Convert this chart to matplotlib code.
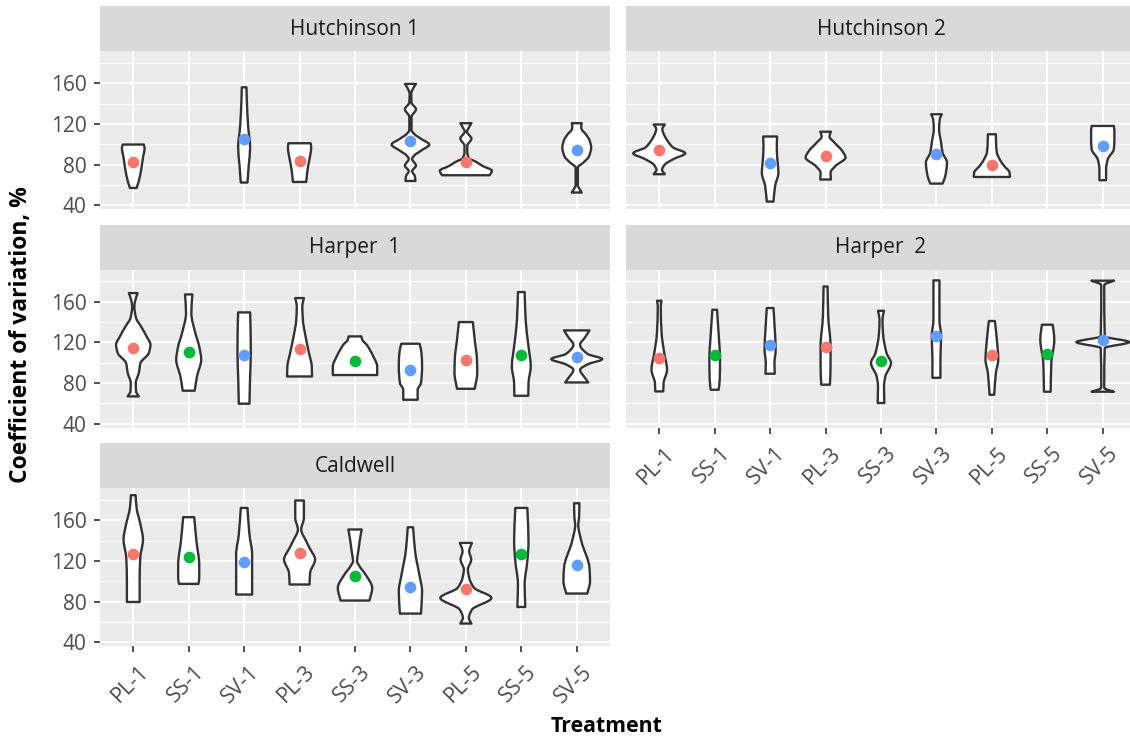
"""Faceted violin plot of coefficient of variation by treatment and site."""

import matplotlib

matplotlib.use("Agg")
import matplotlib.pyplot as plt
import matplotlib.transforms as mtransforms
import numpy as np
from matplotlib.patches import PathPatch
from matplotlib.path import Path
from matplotlib.ticker import FixedLocator

TREATMENTS = ["PL-1", "SS-1", "SV-1", "PL-3", "SS-3", "SV-3", "PL-5", "SS-5", "SV-5"]
TYPE_COLOR = {"PL": "#F8766D", "SS": "#00BA38", "SV": "#619CFF"}

# violin outlines: (CV values bottom->top, half-width in category units)
H1_SHAPE = {
    "PL-1": ([57.0, 63.9, 75.4, 88.5, 95.8, 99.7], [0.06, 0.10, 0.144, 0.18, 0.205, 0.19]),
    "SV-1": ([62.3, 79.6, 96.8, 118.0, 144.3, 156.0], [0.06, 0.084, 0.108, 0.072, 0.048, 0.042]),
    "PL-3": ([62.9, 75.4, 88.5, 96.8, 101.0], [0.12, 0.145, 0.19, 0.21, 0.2]),
    "SV-3": ([63.9, 68.5, 73.5, 79.0, 85.5, 89.0, 94.0, 99.7, 105.0, 110.0, 114.0, 127.0,
              134.4, 141.0, 150.0, 155.0, 159.3],
             [0.09, 0.08, 0.03, 0.10, 0.03, 0.07, 0.2, 0.34, 0.2, 0.07, 0.02, 0.02,
              0.10, 0.02, 0.015, 0.05, 0.10]),
    "PL-5": ([69.5, 73.9, 78.7, 82.8, 86.0, 92.0, 98.5, 105.6, 112.4, 116.0, 120.7],
             [0.43, 0.47, 0.30, 0.18, 0.06, 0.025, 0.025, 0.10, 0.02, 0.05, 0.10]),
    "SV-5": ([52.5, 56.0, 59.5, 77.0, 82.0, 88.0, 96.8, 104.0, 110.0, 114.5, 117.0, 120.7],
             [0.09, 0.05, 0.02, 0.02, 0.12, 0.22, 0.26, 0.23, 0.16, 0.09, 0.08, 0.09]),
}
H1_MEAN = {"PL-1": 83.0, "SV-1": 105.6, "PL-3": 83.3, "SV-3": 103.3, "PL-5": 83.0, "SV-5": 94.5}

H2_SHAPE = {
    "PL-1": ([70.5, 74.8, 80.0, 85.5, 91.1, 96.8, 103.3, 111.5, 115.0, 119.4],
             [0.10, 0.05, 0.10, 0.26, 0.47, 0.25, 0.15, 0.07, 0.055, 0.10]),
    "SV-1": ([43.6, 59.0, 72.0, 85.2, 98.0, 107.6], [0.06, 0.09, 0.15, 0.13, 0.12, 0.126]),
    "PL-3": ([65.3, 72.0, 78.7, 86.9, 93.4, 101.6, 107.6, 112.3],
             [0.096, 0.09, 0.18, 0.36, 0.3, 0.16, 0.07, 0.096]),
    "SV-3": ([61.3, 68.8, 82.0, 91.8, 101.6, 114.8, 124.6, 129.5],
             [0.11, 0.16, 0.19, 0.11, 0.084, 0.048, 0.06, 0.096]),
    "PL-5": ([67.8, 72.0, 78.7, 85.2, 91.8, 101.6, 109.8], [0.325, 0.32, 0.22, 0.14, 0.09, 0.075, 0.072]),
    "SV-5": ([64.6, 75.4, 85.2, 95.1, 104.9, 113.1, 118.0], [0.06, 0.06, 0.09, 0.2, 0.21, 0.21, 0.2]),
}
H2_MEAN = {"PL-1": 94.4, "SV-1": 81.7, "PL-3": 88.9, "SV-3": 90.8, "PL-5": 79.7, "SV-5": 98.1}

HA1_SHAPE = {
    "PL-1": ([66.9, 71.8, 80.0, 89.9, 99.7, 109.5, 117.7, 125.9, 135.7, 144.0, 155.4, 162.0, 168.5],
             [0.10, 0.05, 0.045, 0.10, 0.13, 0.28, 0.31, 0.24, 0.14, 0.05, 0.02, 0.04, 0.078]),
    "SS-1": ([72.5, 86.6, 103.0, 116.0, 129.2, 148.9, 167.2], [0.108, 0.15, 0.225, 0.19, 0.12, 0.048, 0.066]),
    "SV-1": ([59.7, 86.6, 109.5, 135.7, 149.5], [0.096, 0.108, 0.12, 0.115, 0.108]),
    "PL-3": ([86.5, 96.4, 109.5, 122.6, 142.3, 155.4, 163.6], [0.225, 0.22, 0.17, 0.12, 0.06, 0.05, 0.078]),
    "SS-3": ([87.9, 96.4, 106.2, 117.7, 122.6, 125.9], [0.40, 0.40, 0.33, 0.21, 0.13, 0.115]),
    "SV-3": ([63.6, 73.4, 80.0, 96.4, 109.5, 118.7], [0.13, 0.13, 0.19, 0.21, 0.2, 0.165]),
    "PL-5": ([74.4, 89.9, 103.0, 122.6, 140.0], [0.16, 0.205, 0.2, 0.16, 0.126]),
    "SS-5": ([67.5, 80.0, 96.4, 116.0, 142.3, 169.5], [0.126, 0.13, 0.17, 0.13, 0.078, 0.06]),
    "SV-5": ([80.6, 85.0, 93.0, 98.5, 103.6, 108.5, 117.7, 125.0, 131.8],
             [0.21, 0.15, 0.06, 0.2, 0.46, 0.2, 0.06, 0.15, 0.23]),
}
HA1_MEAN = {"PL-1": 114.4, "SS-1": 110.5, "SV-1": 107.9, "PL-3": 113.8, "SS-3": 102.0,
            "SV-3": 92.4, "PL-5": 103.0, "SS-5": 107.2, "SV-5": 105.2}

HA2_SHAPE = {
    "PL-1": ([71.8, 80.0, 93.1, 109.5, 129.2, 155.4, 161.0], [0.072, 0.078, 0.14, 0.09, 0.042, 0.027, 0.04]),
    "SS-1": ([73.4, 83.3, 103.0, 132.5, 152.1], [0.072, 0.09, 0.096, 0.066, 0.042]),
    "SV-1": ([89.2, 99.7, 112.8, 132.5, 153.8], [0.084, 0.078, 0.10, 0.084, 0.06]),
    "PL-3": ([78.4, 96.4, 116.0, 145.6, 175.0], [0.078, 0.09, 0.09, 0.048, 0.036]),
    "SS-3": ([60.4, 76.7, 86.5, 99.7, 109.5, 129.2, 142.3, 151.1],
             [0.06, 0.054, 0.078, 0.18, 0.10, 0.036, 0.027, 0.054]),
    "SV-3": ([85.2, 103.0, 126.0, 142.3, 181.0], [0.072, 0.072, 0.084, 0.054, 0.054]),
    "PL-5": ([68.5, 89.9, 103.0, 122.6, 141.0], [0.042, 0.072, 0.115, 0.09, 0.054]),
    "SS-5": ([71.5, 99.7, 122.6, 132.5, 137.4], [0.06, 0.072, 0.126, 0.11, 0.096]),
    "SV-5": ([71.5, 75.1, 76.7, 114.4, 120.3, 126.0, 175.0, 176.7, 180.7],
             [0.2, 0.03, 0.027, 0.036, 0.475, 0.036, 0.027, 0.03, 0.205]),
}
HA2_MEAN = {"PL-1": 104.2, "SS-1": 107.2, "SV-1": 117.7, "PL-3": 115.0, "SS-3": 101.3,
            "SV-3": 126.2, "PL-5": 107.2, "SS-5": 108.9, "SV-5": 122.6}

CA_SHAPE = {
    "PL-1": ([79.6, 100.0, 122.9, 141.0, 155.8, 172.1, 184.6], [0.115, 0.115, 0.126, 0.175, 0.13, 0.06, 0.042]),
    "SS-1": ([97.4, 103.5, 116.4, 139.3, 163.0], [0.175, 0.19, 0.19, 0.14, 0.10]),
    "SV-1": ([86.9, 106.6, 126.3, 146.0, 172.1], [0.144, 0.144, 0.144, 0.096, 0.06]),
    "PL-3": ([96.8, 108.2, 121.3, 132.7, 139.3, 150.9, 162.3, 179.4],
             [0.18, 0.19, 0.28, 0.18, 0.12, 0.03, 0.078, 0.078]),
    "SS-3": ([81.0, 93.4, 106.6, 114.8, 119.7, 129.5, 139.3, 150.9],
             [0.26, 0.31, 0.19, 0.08, 0.036, 0.06, 0.084, 0.12]),
    "SV-3": ([68.2, 90.2, 106.6, 129.5, 153.1], [0.19, 0.21, 0.16, 0.084, 0.048]),
    "PL-5": ([58.4, 63.9, 72.1, 83.6, 93.4, 103.3, 111.5, 121.3, 129.5, 137.7],
             [0.10, 0.054, 0.11, 0.46, 0.15, 0.06, 0.036, 0.096, 0.06, 0.108]),
    "SS-5": ([74.7, 96.8, 119.7, 139.3, 172.1], [0.072, 0.06, 0.108, 0.13, 0.108]),
    "SV-5": ([87.9, 100.0, 113.1, 139.3, 155.8, 162.3, 176.7], [0.19, 0.24, 0.23, 0.084, 0.027, 0.042, 0.048]),
}
CA_MEAN = {"PL-1": 127.2, "SS-1": 123.6, "SV-1": 119.0, "PL-3": 127.9, "SS-3": 104.9,
           "SV-3": 94.4, "PL-5": 92.4, "SS-5": 126.9, "SV-5": 115.7}

Y_TICKS = [40, 80, 120, 160]
Y_MINOR = [60, 100, 140, 180]


def pchip_slopes(y, w):
    h = np.diff(y)
    d = np.diff(w) / h
    m = np.zeros_like(w)
    m[0], m[-1] = d[0], d[-1]
    for k in range(1, len(w) - 1):
        if d[k - 1] * d[k] > 0:
            w1 = 2 * h[k] + h[k - 1]
            w2 = h[k] + 2 * h[k - 1]
            m[k] = (w1 + w2) / (w1 / d[k - 1] + w2 / d[k])
    return m


def violin_path(x0, ys, ws):
    y = np.asarray(ys, float)
    w = np.asarray(ws, float)
    m = pchip_slopes(y, w)
    verts = [(x0 - w[0], y[0]), (x0 + w[0], y[0])]
    codes = [Path.MOVETO, Path.LINETO]
    for i in range(len(y) - 1):
        h = y[i + 1] - y[i]
        verts += [(x0 + w[i] + m[i] * h / 3, y[i] + h / 3),
                  (x0 + w[i + 1] - m[i + 1] * h / 3, y[i + 1] - h / 3),
                  (x0 + w[i + 1], y[i + 1])]
        codes += [Path.CURVE4] * 3
    verts.append((x0 - w[-1], y[-1]))
    codes.append(Path.LINETO)
    for i in range(len(y) - 1, 0, -1):
        h = y[i] - y[i - 1]
        verts += [(x0 - (w[i] - m[i] * h / 3), y[i] - h / 3),
                  (x0 - (w[i - 1] + m[i - 1] * h / 3), y[i - 1] + h / 3),
                  (x0 - w[i - 1], y[i - 1])]
        codes += [Path.CURVE4] * 3
    verts.append(verts[0])
    codes.append(Path.CLOSEPOLY)
    return Path(verts, codes)


def main() -> None:
    plt.rcParams.update({"font.family": ["Open Sans", "DejaVu Sans"]})
    W, H = 1130, 740
    fig = plt.figure(figsize=(W / 100, H / 100), dpi=100)

    panel_w, panel_h, strip_h = 510, 158, 45
    col_x = [100, 626]
    row_top = [6, 224.5, 443]
    facets = [
        ("Hutchinson 1", H1_SHAPE, H1_MEAN, 0, 0),
        ("Hutchinson 2", H2_SHAPE, H2_MEAN, 0, 1),
        ("Harper  1", HA1_SHAPE, HA1_MEAN, 1, 0),
        ("Harper  2", HA2_SHAPE, HA2_MEAN, 1, 1),
        ("Caldwell", CA_SHAPE, CA_MEAN, 2, 0),
    ]
    show_x = {(2, 0), (1, 1)}
    label_shift = mtransforms.ScaledTranslation(5 / 100, -2 / 100, fig.dpi_scale_trans)

    for title, shapes, means, r, c in facets:
        x = col_x[c]
        top = row_top[r]
        sax = fig.add_axes([x / W, 1 - (top + strip_h) / H, panel_w / W, strip_h / H])
        sax.set_facecolor("#D9D9D9")
        sax.set_xticks([])
        sax.set_yticks([])
        for s in sax.spines.values():
            s.set_visible(False)
        sax.text(0.5, 0.48, title, ha="center", va="center", fontsize=15, color="#1A1A1A",
                 transform=sax.transAxes)

        ax = fig.add_axes([x / W, 1 - (top + strip_h + panel_h) / H, panel_w / W, panel_h / H])
        ax.set_facecolor("#EBEBEB")
        for s in ax.spines.values():
            s.set_visible(False)
        ax.set_xlim(0.4, 9.6)
        ax.set_ylim(36.3, 191.7)
        ax.set_yticks(Y_TICKS)
        ax.yaxis.set_minor_locator(FixedLocator(Y_MINOR))
        ax.set_xticks(range(1, len(TREATMENTS) + 1))
        ax.grid(which="major", color="white", lw=1.5)
        ax.grid(which="minor", axis="y", color="white", lw=0.8)
        ax.set_axisbelow(True)
        ax.tick_params(which="minor", length=0)
        ax.tick_params(which="major", length=4.5, width=1.2, color="#333333",
                       labelcolor="#4D4D4D", labelsize=15, pad=5)

        for i, t in enumerate(TREATMENTS):
            if t not in shapes:
                continue
            ys, ws = shapes[t]
            ax.add_patch(PathPatch(violin_path(i + 1, ys, ws), facecolor="white",
                                   edgecolor="#333333", lw=1.7, joinstyle="round", zorder=2))
            ax.plot(i + 1, means[t], "o", ms=8.4, mec="none", color=TYPE_COLOR[t[:2]], zorder=3)

        if c == 0:
            ax.set_yticklabels([str(v) for v in Y_TICKS])
        else:
            ax.tick_params(axis="y", left=False, labelleft=False)
        if (r, c) in show_x:
            labels = ax.set_xticklabels(TREATMENTS, rotation=45, ha="right", va="top",
                                        rotation_mode="anchor", fontsize=15.5)
            for lab in labels:
                lab.set_transform(lab.get_transform() + label_shift)
        else:
            ax.tick_params(axis="x", bottom=False, labelbottom=False)

    fig.text(21 / W, 1 - 335 / H, "Coefficient of variation, %", rotation=90, ha="center", va="center",
             fontsize=16.5, fontweight="bold", color="black")
    fig.text(607 / W, 1 - 727 / H, "Treatment", ha="center", va="center",
             fontsize=15.3, fontweight="bold", color="black")

    fig.savefig("out.png", dpi=100)
    plt.close(fig)


if __name__ == "__main__":
    main()
